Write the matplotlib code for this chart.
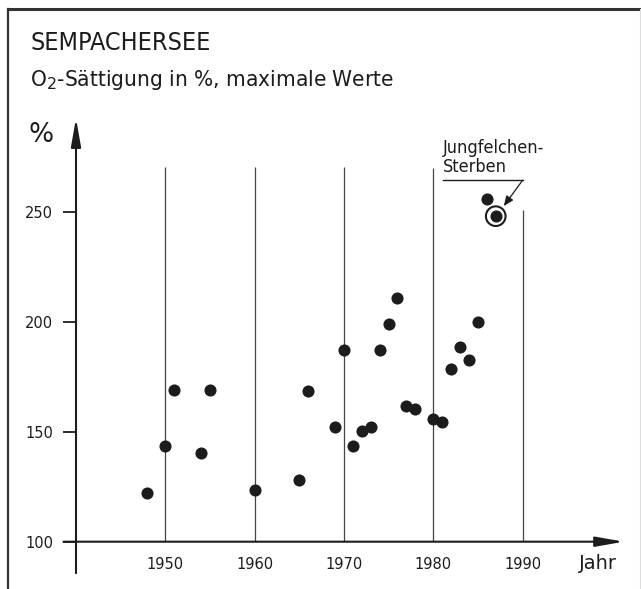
import matplotlib
matplotlib.use("Agg")
import matplotlib.pyplot as plt
from matplotlib.lines import Line2D

# Sempachersee, maximale O2-Saettigung (%)
years = [1948, 1950, 1951, 1954, 1955, 1960, 1965, 1966, 1969, 1970, 1971,
         1972, 1973, 1974, 1975, 1976, 1977, 1978, 1980, 1981, 1982, 1983,
         1984, 1985, 1986]
values = [122, 143.5, 169, 140.5, 169, 123.5, 128, 168.5, 152, 187, 143.5,
          150.5, 152, 187, 199, 211, 161.5, 160.5, 156, 154.5, 178.5, 188.5,
          182.5, 200, 256]
marked_year = 1987
marked_value = 248

decades = [1950, 1960, 1970, 1980, 1990]
decade_tops = [270.5, 270.5, 270.5, 270, 251]
yticks = [100, 150, 200, 250]

W, H = 641, 589
ink = "#1c1c1c"
plt.rcParams['font.family'] = ['DejaVu Sans']

fig = plt.figure(figsize=(W / 100, H / 100), dpi=100)
ax = fig.add_axes([76 / W, (H - 541.7) / H, (623.8 - 76) / W, (541.7 - 118.3) / H])
ax.set_xlim(1940, 2001.34)
ax.set_ylim(100, 292.5)
for s in ax.spines.values():
    s.set_visible(False)

# frame
fig.add_artist(Line2D([8 / W, 8 / W], [0, 1 - 9 / H], color="#333333", lw=1.6))
fig.add_artist(Line2D([8 / W, 1], [1 - 9 / H, 1 - 9 / H], color="#333333", lw=2.2))
fig.add_artist(Line2D([639.5 / W, 639.5 / W], [0, 1 - 9 / H], color="#dddddd", lw=0.8))

# titles
fig.text(30 / W, 1 - 50 / H, "SEMPACHERSEE", fontsize=18, color=ink,
         va="baseline", fontstretch="condensed")
fig.text(30 / W, 1 - 86 / H, "O$_2$-Sättigung in %, maximale Werte", fontsize=16.2,
         color=ink, va="baseline", fontstretch="condensed")

# axes with arrows
ax.annotate("", xy=(2001.34, 100), xytext=(1938.6, 100),
            arrowprops=dict(arrowstyle="-|>,head_length=1.7,head_width=0.3",
                            mutation_scale=10, color=ink, lw=1.5,
                            shrinkA=0, shrinkB=0), annotation_clip=False)
ax.annotate("", xy=(1940, 292.5), xytext=(1940, 85.7),
            arrowprops=dict(arrowstyle="-|>,head_length=1.7,head_width=0.3",
                            mutation_scale=10, color=ink, lw=1.5,
                            shrinkA=0, shrinkB=0), annotation_clip=False)

ax.vlines(decades, 100, decade_tops, color="#444444", lw=0.9)

ax.set_yticks(yticks)
ax.set_xticks(decades)
ax.tick_params(axis="y", direction="out", length=9.4, width=1.3, color=ink,
               pad=7, labelsize=10.5, labelcolor=ink)
ax.tick_params(axis="x", length=0, pad=11, labelsize=10.5, labelcolor=ink)

ax.text(1998.4, 90.3, "Jahr", fontsize=14, color=ink, ha="center", va="center")
ax.text(1936.1, 284.9, "%", fontsize=19, color=ink, ha="center", va="center")

ax.scatter(years, values, s=76, color=ink, zorder=3, linewidths=0)
ax.scatter([marked_year], [marked_value], s=76, color=ink, zorder=3, linewidths=0)
ax.scatter([marked_year], [marked_value], s=200, facecolors="none",
           edgecolors=ink, linewidths=1.5, zorder=3)

# annotation
ax.text(1981.05, 264.3 + 2, "Jungfelchen-\nSterben", fontsize=13, color=ink,
        ha="left", va="bottom", linespacing=1.05, fontstretch="condensed")
ax.plot([1981.05, 1990.0], [264.3, 264.3], color=ink, lw=1.0)
ax.annotate("", xy=(1987.9, 252.6), xytext=(1990.0, 264.3),
            arrowprops=dict(arrowstyle="-|>,head_length=0.6,head_width=0.25",
                            mutation_scale=10, color=ink, lw=0.9,
                            shrinkA=0, shrinkB=0))

fig.savefig("out.png", dpi=100)
